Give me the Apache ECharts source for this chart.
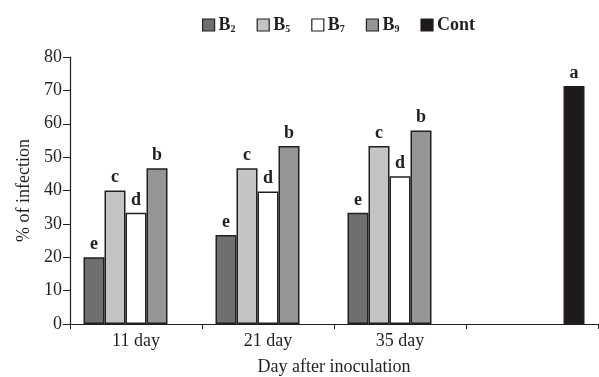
<!DOCTYPE html>
<html>
<head>
<meta charset="utf-8">
<script src="https://cdn.jsdelivr.net/npm/echarts@6/dist/echarts.min.js"></script>
<style>html,body{margin:0;padding:0;background:#fff}#c{width:599px;height:377px}</style>
</head>
<body>
<div id="c"></div>
<script>
const categories = ['11 day', '21 day', '35 day', ''];
const b2 = [20, 26.7, 33.3, null];
const b5 = [40, 46.7, 53.3, null];
const b7 = [33.3, 39.7, 44.3, null];
const b9 = [46.7, 53.3, 58, null];
const cont = [null, null, null, 71.3];
const b2Letters = ['e', 'e', 'e', ''];
const b5Letters = ['c', 'c', 'c', ''];
const b7Letters = ['d', 'd', 'd', ''];
const b9Letters = ['b', 'b', 'b', ''];
const contLetters = ['', '', '', 'a'];
const yTicks = [0, 10, 20, 30, 40, 50, 60, 70, 80];

const FONT = '"Liberation Serif", "Times New Roman", serif';
const INK = '#231f20';

function series(name, data, letters, color) {
  return {
    name: name,
    type: 'bar',
    data: data,
    barWidth: 21,
    barGap: '0%',
    itemStyle: { color: color, borderColor: INK, borderWidth: 1.5 },
    label: {
      show: true,
      position: 'top',
      distance: 4,
      formatter: p => letters[p.dataIndex],
      fontFamily: FONT,
      fontWeight: 'bold',
      fontSize: 18,
      color: INK
    }
  };
}

const chart = echarts.init(document.getElementById('c'));
const rich = {
  b: { fontFamily: FONT, fontWeight: 'bold', fontSize: 18, color: INK },
  s: { fontFamily: FONT, fontWeight: 'bold', fontSize: 10, color: INK, padding: [9, 0, 0, 0] }
};
chart.setOption({
  animation: false,
  backgroundColor: '#fff',
  legend: {
    top: 11,
    left: 197,
    itemWidth: 12,
    itemHeight: 12,
    itemGap: 21,
    icon: 'rect',
    itemStyle: { borderColor: INK, borderWidth: 1.2 },
    data: ['B2', 'B5', 'B7', 'B9', 'Cont'],
    formatter: function (n) {
      if (n === 'Cont') return '{b|Cont}';
      return '{b|B}{s|' + n.slice(1) + '}';
    },
    textStyle: { rich: rich, padding: [0, 0, 0, -1] }
  },
  grid: { left: 70, right: 1, top: 57, bottom: 53, containLabel: false, outerBoundsMode: 'none' },
  xAxis: {
    type: 'category',
    data: categories,
    name: 'Day after inoculation',
    nameLocation: 'middle',
    nameGap: 34,
    nameTextStyle: { fontFamily: FONT, fontSize: 18, color: INK },
    axisLine: { lineStyle: { color: INK, width: 1.2 } },
    axisTick: { show: true, length: 5, lineStyle: { color: INK } },
    axisLabel: { fontFamily: FONT, fontSize: 18, color: INK, margin: 8 }
  },
  yAxis: {
    type: 'value',
    min: 0,
    max: 80,
    interval: 10,
    name: '% of infection',
    nameLocation: 'middle',
    nameGap: 37,
    nameTextStyle: { fontFamily: FONT, fontSize: 18, color: INK },
    splitLine: { show: false },
    axisLine: { show: true, lineStyle: { color: INK, width: 1.2 } },
    axisTick: { show: true, length: 7, lineStyle: { color: INK } },
    axisLabel: {
      fontFamily: FONT, fontSize: 18, color: INK, margin: 8,
      formatter: v => (yTicks.indexOf(v) >= 0 ? String(v) : '')
    }
  },
  series: [
    series('B2', b2, b2Letters, '#6f6e70'),
    series('B5', b5, b5Letters, '#c4c4c4'),
    series('B7', b7, b7Letters, '#ffffff'),
    series('B9', b9, b9Letters, '#959595'),
    series('Cont', cont, contLetters, '#1e1a1a')
  ]
});
</script>
</body>
</html>
